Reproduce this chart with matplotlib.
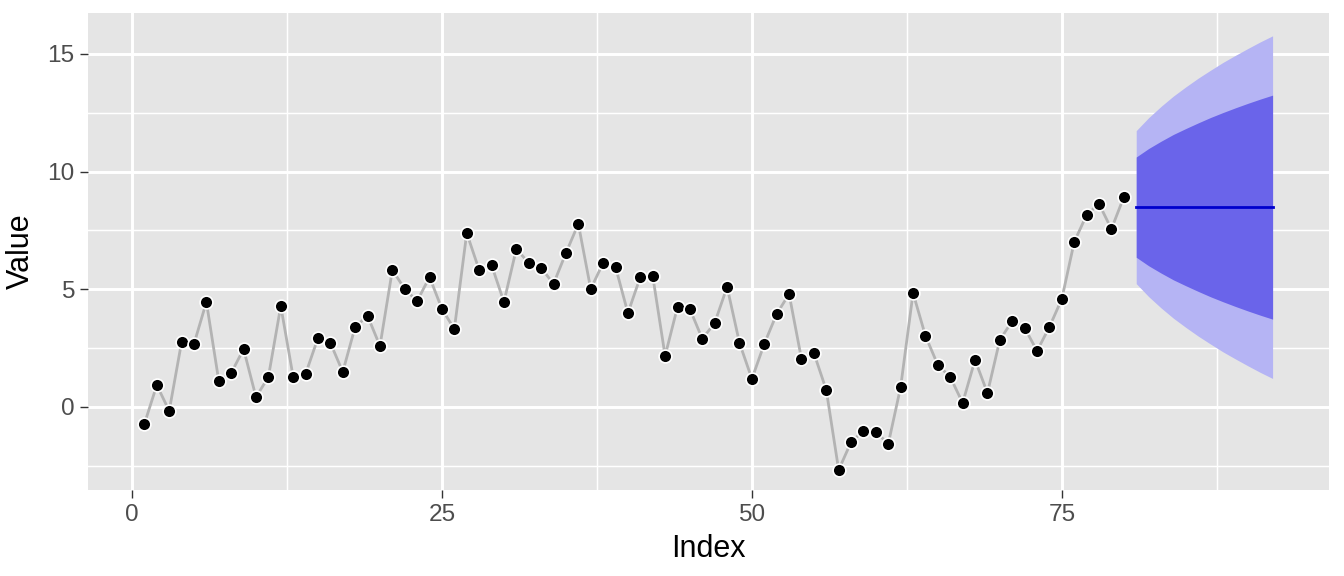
import numpy as np
import matplotlib.pyplot as plt

plt.rcParams['font.family'] = ['Liberation Sans', 'DejaVu Sans']

# observed series (index 1..80)
index = list(range(1, 81))
values = [-0.72, 0.93, -0.17, 2.76, 2.68, 4.46, 1.10, 1.44, 2.46, 0.42,
          1.27, 4.29, 1.27, 1.40, 2.93, 2.72, 1.49, 3.40, 3.87, 2.59,
          5.82, 5.01, 4.50, 5.52, 4.16, 3.31, 7.39, 5.82, 6.03, 4.46,
          6.71, 6.12, 5.91, 5.23, 6.54, 7.78, 5.01, 6.12, 5.95, 3.99,
          5.52, 5.57, 2.17, 4.25, 4.16, 2.89, 3.57, 5.10, 2.72, 1.19,
          2.68, 3.95, 4.80, 2.04, 2.29, 0.72, -2.68, -1.49, -1.02, -1.06,
          -1.57, 0.85, 4.84, 3.02, 1.78, 1.27, 0.17, 2.00, 0.59, 2.85,
          3.65, 3.36, 2.38, 3.40, 4.59, 7.01, 8.16, 8.63, 7.56, 8.92]

# forecast (index 81..92)
fc_index = list(range(81, 93))
fc_mean = [8.49] * 12
hi95 = [11.74, 12.29, 12.77, 13.21, 13.60, 13.97, 14.31, 14.64, 14.94, 15.23, 15.51, 15.77]
lo95 = [5.24, 4.69, 4.21, 3.77, 3.38, 3.01, 2.67, 2.34, 2.04, 1.75, 1.47, 1.21]
hi80 = [10.62, 10.98, 11.29, 11.58, 11.83, 12.07, 12.30, 12.51, 12.71, 12.90, 13.08, 13.25]
lo80 = [6.36, 6.00, 5.69, 5.40, 5.15, 4.91, 4.68, 4.47, 4.27, 4.08, 3.90, 3.73]

fig = plt.figure(figsize=(6.72, 2.88), dpi=200)
ax = fig.add_axes([88 / 1344, 1 - 490 / 576, (1329 - 88) / 1344, (490 - 13) / 576])
ax.set_facecolor('#e5e5e5')
for s in ax.spines.values():
    s.set_visible(False)

# grid
ax.set_xticks([0, 25, 50, 75])
ax.set_yticks([0, 5, 10, 15])
ax.set_xticks([12.5, 37.5, 62.5, 87.5], minor=True)
ax.set_yticks([-2.5, 2.5, 7.5, 12.5], minor=True)
ax.grid(which='major', color='white', linewidth=1.07)
ax.grid(which='minor', color='white', linewidth=0.53)
ax.set_axisbelow(True)

# forecast bands
ax.fill_between(fc_index, lo95, hi95, color='#b5b4f4', linewidth=0, zorder=2)
ax.fill_between(fc_index, lo80, hi80, color='#6a64ea', linewidth=0, zorder=3)
ax.plot(fc_index, fc_mean, color='#0000cd', linewidth=1.0, zorder=4)

# observed data
ax.plot(index, values, color='#b3b3b3', linewidth=1.0, zorder=5)
ax.plot(index, values, 'o', color='black', markersize=4.6,
        markeredgecolor='white', markeredgewidth=0.6, zorder=6)

ax.set_xlim(-3.55, 96.55)
ax.set_ylim(-3.53, 16.74)

ax.tick_params(which='major', length=2.75, width=0.5, color='#333333',
               labelcolor='#4d4d4d', labelsize=8.8, pad=2.2)
ax.tick_params(which='minor', length=0)
ax.set_xlabel('Index', fontsize=11, color='black', labelpad=3)
ax.set_ylabel('Value', fontsize=11, color='black', labelpad=4)

fig.savefig('out.png', dpi=200)
